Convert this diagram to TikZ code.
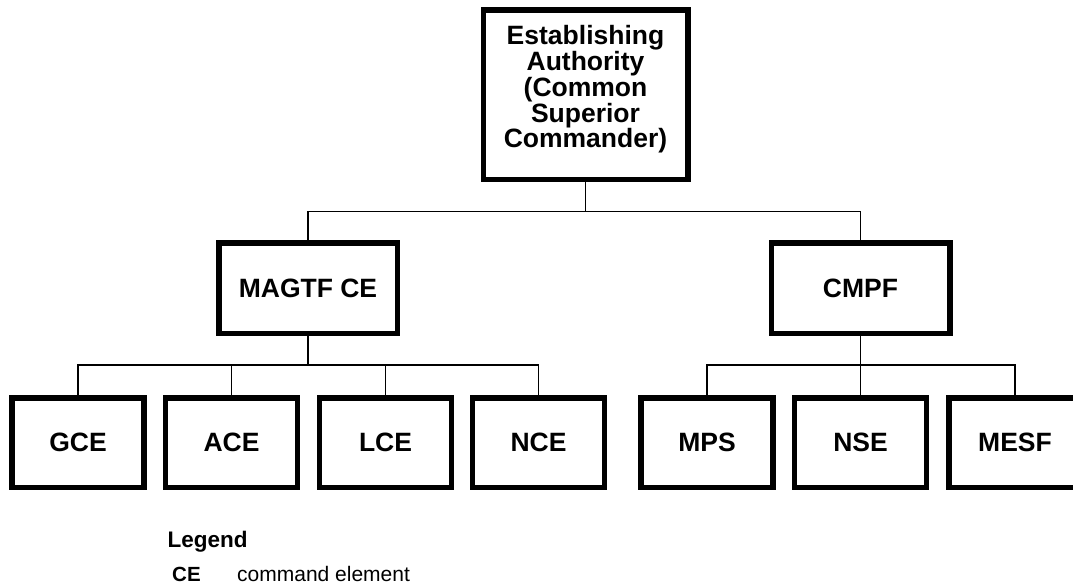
\documentclass[tikz,border=0pt]{standalone}
\usepackage{fontspec}
\setmainfont{Liberation Sans}
\begin{document}
\begin{tikzpicture}[x=1pt,y=-1pt,
  orgbox/.style={draw=black, line width=5.5pt, fill=white, rectangle, inner sep=0pt,
    font=\fontsize{26.5}{23.5}\selectfont\bfseries},
  unitbox/.style={orgbox, minimum width=132pt, minimum height=89.5pt},
  midbox/.style={orgbox, minimum width=178.5pt, minimum height=90.5pt},
  link/.style={draw=black, line width=1.6pt},
  legtext/.style={anchor=base west, inner sep=0pt}]
\useasboundingbox (0,0) rectangle (1073,584);
\begin{scope}
\clip (0,0) rectangle (1073,584);

% top level: establishing authority
\node[orgbox, minimum width=204.5pt, minimum height=169.5pt] (top) at (585.5,94.5) {};
\node[align=center, inner sep=0pt, font=\fontsize{26.5}{23.4}\selectfont\bfseries] (toptext) at (585.5,89.5)
  {Establishing\\Authority\\(Common\\Superior\\Commander)};

% second level
\node[midbox] (magtf) at (308,288) {MAGTF CE};
\node[midbox] (cmpf) at (860.5,288) {CMPF};

% third level
\node[unitbox] (gce)  at (78,442.5)   {GCE};
\node[unitbox] (ace)  at (231.5,442.5) {ACE};
\node[unitbox] (lce)  at (385.5,442.5) {LCE};
\node[unitbox] (nce)  at (538.5,442.5) {NCE};
\node[unitbox] (mps)  at (707,442.5)  {MPS};
\node[unitbox] (nse)  at (860.5,442.5) {NSE};
\node[unitbox] (mesf) at (1015,442.5) {MESF};

% bus levels
\coordinate (bustop) at (0,211.5);
\coordinate (buslow) at (0,365);

% connectors
\draw[link] (top.south) -- (top.south |- bustop) -| (magtf.north);
\draw[link] (top.south |- bustop) -| (cmpf.north);
\foreach \u in {gce,ace,lce,nce}
  \draw[link] (magtf.south) -- (magtf.south |- buslow) -| (\u.north);
\foreach \u in {mps,nse,mesf}
  \draw[link] (cmpf.south) -- (cmpf.south |- buslow) -| (\u.north);

% legend
\node[legtext, font=\fontsize{22.5}{26}\selectfont\bfseries] (legend) at (167.5,547) {Legend};
\node[legtext, font=\fontsize{20.5}{24}\selectfont\bfseries] (legce) at (172,581) {CE};
\node[legtext, font=\fontsize{21}{24}\selectfont] (legcetext) at (237,581) {command element};
\end{scope}
\end{tikzpicture}
\end{document}
